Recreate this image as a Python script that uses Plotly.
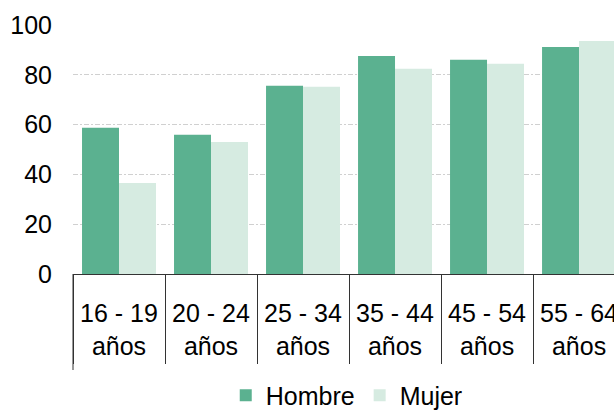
import plotly.graph_objects as go

# Age groups and percentages by sex
categories = ["16 - 19<br>años", "20 - 24<br>años", "25 - 34<br>años",
              "35 - 44<br>años", "45 - 54<br>años", "55 - 64<br>años"]
hombre = [58.7, 55.9, 75.6, 87.6, 86.0, 91.2]
mujer = [36.5, 53.0, 75.2, 82.4, 84.4, 93.6]
y_ticks = [0, 20, 40, 60, 80, 100]

FONT = "Liberation Sans, Arial, sans-serif"
COLOR_H = "#5BB190"
COLOR_M = "#D6EBE1"

fig = go.Figure()
fig.add_bar(x=categories, y=hombre, name="Hombre", marker_color=COLOR_H,
            marker_line_width=0)
fig.add_bar(x=categories, y=mujer, name="Mujer", marker_color=COLOR_M,
            marker_line_width=0)

fig.update_layout(
    width=614, height=410,
    margin=dict(l=73, r=0, t=25, b=136, pad=0, autoexpand=False),
    paper_bgcolor="white", plot_bgcolor="white",
    barmode="group", bargap=0.196, bargroupgap=0,
    font=dict(family=FONT, size=25, color="#000000"),
    showlegend=True,
    legend=dict(orientation="h", x=0.506, xanchor="center", y=-0.488,
                yanchor="middle", font=dict(size=25), itemwidth=30,
                bgcolor="rgba(0,0,0,0)"),
)

fig.update_xaxes(
    type="category",
    range=[-0.5, 5.38],
    automargin=False,
    showgrid=False,
    showline=True, linecolor="#333333", linewidth=1,
    ticks="outside", tickson="boundaries", ticklen=89,
    tickcolor="#333333", tickwidth=1,
    tickfont=dict(size=25),
    tickangle=0,
    ticklabelstandoff=17,
)

fig.update_yaxes(
    range=[0, 100],
    automargin=False,
    tickvals=y_ticks,
    showgrid=True, gridcolor="#D0D0D0", gridwidth=1,
    griddash="5px,2px,2px,2px",
    zeroline=False, showline=False,
    ticks="", ticklabelstandoff=20,
    tickfont=dict(size=25),
)

# Longer divider at the left edge of the category axis
fig.add_shape(type="line", xref="paper", yref="paper",
              x0=0, x1=0, y0=0, y1=-96 / 249,
              line=dict(color="#333333", width=1))

fig.write_html("out.html")
